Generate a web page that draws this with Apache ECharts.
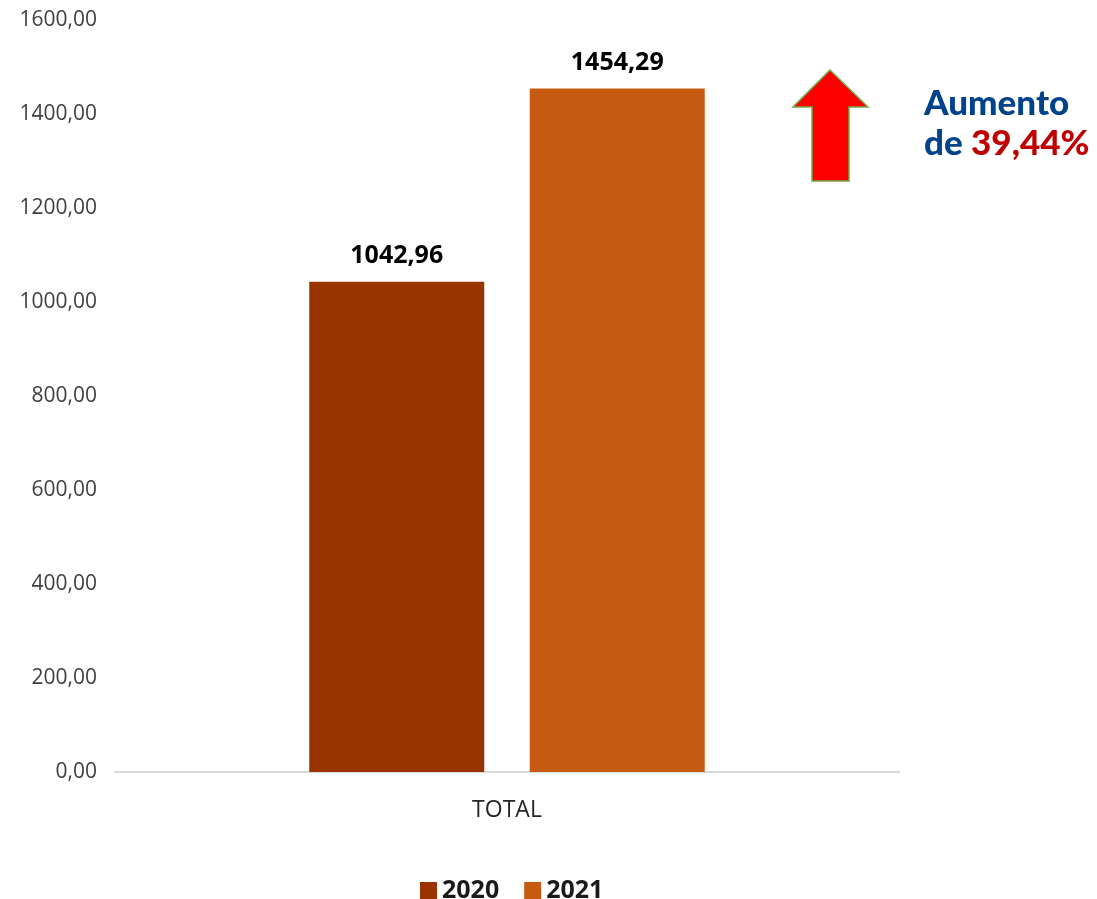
<!DOCTYPE html>
<html>
<head>
<meta charset="utf-8">
<script src="https://cdn.jsdelivr.net/npm/echarts@6/dist/echarts.min.js"></script>
<style>html,body{margin:0;padding:0;background:#fff}#c{width:1097px;height:899px}</style>
</head>
<body>
<div id="c"></div>
<script>
const categories = ['TOTAL'];
const seriesNames = ['2020', '2021'];
const values2020 = [1042.96];
const values2021 = [1454.29];
const yTicks = { min: 0, max: 1600, interval: 200 };
const annotationLine1 = 'Aumento';
const annotationPrefix = 'de ';
const annotationPct = '39,44%';

const fmt = v => v.toFixed(2).replace('.', ',');
const chart = echarts.init(document.getElementById('c'));
const font = '"Open Sans", "Noto Sans", sans-serif';
const annFont = '"Lato", "Open Sans", sans-serif';
chart.setOption({
  animation: false,
  textStyle: { fontFamily: font },
  grid: { left: 115, right: 198, top: 20, bottom: 127 },
  legend: {
    left: 415, top: 873,
    itemWidth: 17, itemHeight: 17, itemGap: 25,
    icon: 'rect',
    textStyle: { fontFamily: font, fontSize: 25, fontWeight: 'bold', color: '#1a1a1a' },
    data: seriesNames
  },
  xAxis: {
    type: 'category', data: categories,
    axisLine: { lineStyle: { color: '#d9d9d9', width: 2 } },
    axisTick: { show: false },
    axisLabel: { fontSize: 23, color: '#262626', margin: 27, fontFamily: font }
  },
  yAxis: {
    type: 'value', min: yTicks.min, max: yTicks.max, interval: yTicks.interval,
    splitLine: { show: false },
    axisLine: { show: false }, axisTick: { show: false },
    axisLabel: { fontSize: 21, color: '#404040', margin: 18, formatter: fmt, fontFamily: font }
  },
  series: [
    { name: seriesNames[0], type: 'bar', data: values2020, barWidth: 175, barGap: '26%',
      itemStyle: { color: '#993300' },
      label: { show: true, position: 'top', distance: 13, formatter: p => fmt(p.value),
        fontSize: 25, fontWeight: 'bold', color: '#000', fontFamily: font } },
    { name: seriesNames[1], type: 'bar', data: values2021, barWidth: 175,
      itemStyle: { color: '#C55A11' },
      label: { show: true, position: 'top', distance: 13, formatter: p => fmt(p.value),
        fontSize: 25, fontWeight: 'bold', color: '#000', fontFamily: font } }
  ],
  graphic: [
    { type: 'polygon', shape: { points: [[830,70],[868,107],[849,107],[849,181],[812,181],[812,107],[793,107]] },
      style: { fill: '#FF0000', stroke: '#70AD47', lineWidth: 1.5 } },
    { type: 'text', left: 924, top: 86,
      style: {
        text: '{b|' + annotationLine1 + '}\n{b|' + annotationPrefix + '}{r|' + annotationPct + '}',
        rich: {
          b: { fontFamily: annFont, fontWeight: 900, fontSize: 35, fill: '#00438A', lineHeight: 40 },
          r: { fontFamily: annFont, fontWeight: 900, fontSize: 35, fill: '#C00000', lineHeight: 40 }
        }
      } }
  ]
});
</script>
</body>
</html>
